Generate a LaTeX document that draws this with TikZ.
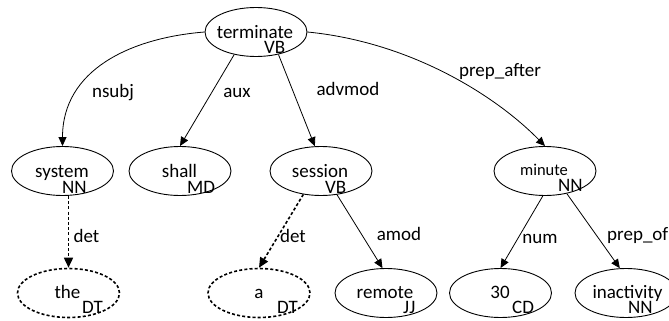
\documentclass[tikz,border=0pt]{standalone}
\usepackage{fontspec}
\setmainfont{Carlito}
\usetikzlibrary{arrows.meta,calc,shapes.geometric}
\begin{document}
\begin{tikzpicture}[x=1pt,y=-1pt,
  tok/.style={ellipse, draw, line width=0.9pt, minimum width=102pt, minimum height=49pt, inner sep=0pt},
  dtok/.style={tok, line width=1.6pt, dash pattern=on 3pt off 2.2pt},
  word/.style={anchor=base, inner sep=0pt, font=\fontsize{19}{22}\selectfont},
  smallword/.style={word, font=\fontsize{16.5}{19}\selectfont},
  tag/.style={anchor=base west, inner sep=0pt, font=\fontsize{19}{22}\selectfont},
  lab/.style={anchor=base, inner sep=0pt, font=\fontsize{19}{22}\selectfont},
  dep/.style={-{Triangle[length=9pt,width=8pt]}, line width=0.8pt},
  ddep/.style={-{Triangle[length=10pt,width=9pt]}, line width=1.6pt, dash pattern=on 3pt off 2.2pt}
]
\clip (0,0) rectangle (669,321);
\fill[white] (0,0) rectangle (669,321);

% token ellipses
\node[tok]  (term) at (256,32)   {};
\node[tok]  (sys)  at (62.5,171) {};
\node[tok]  (shl)  at (180,171)  {};
\node[tok]  (sess) at (321,171)  {};
\node[tok]  (mnt)  at (545,171)  {};
\node[dtok] (the)  at (68.5,293) {};
\node[dtok] (aa)   at (259,293)  {};
\node[tok]  (rem)  at (386,293)  {};
\node[tok]  (thr)  at (500.5,293){};
\node[tok]  (ina)  at (626,293)  {};

% words and tags
\node[word] (w1) at (255,38) {terminate};  \node[tag] (t1) at (264,53) {VB};
\node[word] (w2) at (62,177) {system};     \node[tag] (t2) at (62,193) {NN};
\node[word] (w3) at (179.5,177) {shall};   \node[tag] (t3) at (187,193) {MD};
\node[word] (w4) at (320,177) {session};   \node[tag] (t4) at (325,193) {VB};
\node[smallword] (w5) at (544,175) {minute}; \node[tag] (t5) at (558,191) {NN};
\node[word] (w6) at (67.5,298) {the};      \node[tag] (t6) at (82,313) {DT};
\node[word] (w7) at (259,298) {a};         \node[tag] (t7) at (277,313) {DT};
\node[word] (w8) at (385,298) {remote};    \node[tag] (t8) at (403,313) {JJ};
\node[word] (w9) at (500,298) {30};        \node[tag] (t9) at (512,313) {CD};
\node[word] (w10) at (627.5,298) {inactivity}; \node[tag] (t10) at (628,313) {NN};

% dependencies
\draw[dep] (term.180) .. controls (130,38) and (62.5,70) .. (sys.north);
\draw[dep] (term.226) -- (shl.north);
\draw[dep] (term.315) -- (sess.104);
\draw[dep] (term.0) .. controls (410,42) and (495,95) .. (mnt.north);
\draw[ddep] (the.north |- sys.south) -- (the.north);
\draw[ddep] (sess.233) -- (aa.north);
\draw[dep] (sess.304) -- (rem.98);
\draw[dep] (mnt.265) -- (thr.north);
\draw[dep] (mnt.314) -- (ina.104);

% labels
\node[lab] (l1) at (113,97) {nsubj};
\node[lab] (l2) at (237,97) {aux};
\node[lab] (l3) at (348,95) {advmod};
\node[lab] (l4) at (500,77) {prep\_after};
\node[lab] (l5) at (86.5,242) {det};
\node[lab] (l6) at (293,242) {det};
\node[lab] (l7) at (399,240) {amod};
\node[lab] (l8) at (540,243) {num};
\node[lab, anchor=base west] (l9) at (607,240) {prep\_of};
\end{tikzpicture}
\end{document}
